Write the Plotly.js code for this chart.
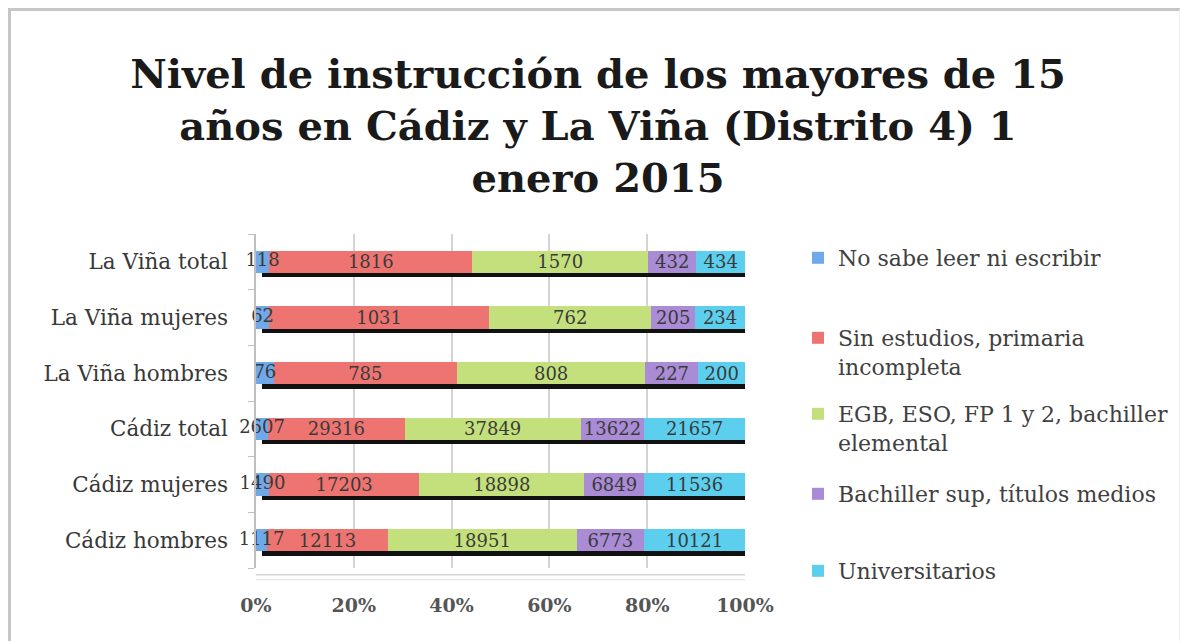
<!DOCTYPE html>
<html>
<head>
<meta charset="utf-8">
<script src="https://cdn.plot.ly/plotly-3.0.1.min.js"></script>
<style>
  html, body { margin: 0; padding: 0; background: #fff; }
  #frame { position: absolute; left: 8px; top: 8px; width: 1168px; height: 640px;
           border-top: 3px solid #c6c6c6; border-left: 3px solid #c6c6c6; border-right: 1px solid #eeeeee; }
  #chart { position: absolute; left: 0; top: 0; width: 1181px; height: 641px; }
</style>
</head>
<body>
<div id="frame"></div>
<div id="chart"></div>
<script>
// Categories (bottom to top)
const categories = ['Cádiz hombres', 'Cádiz mujeres', 'Cádiz total', 'La Viña hombres', 'La Viña mujeres', 'La Viña total'];
const seriesNames = ['No sabe leer ni escribir', 'Sin estudios, primaria<br>incompleta', 'EGB, ESO, FP 1 y 2, bachiller<br>elemental', 'Bachiller sup, títulos medios', 'Universitarios'];
const noSabe      = [1117, 1490, 2607, 76, 62, 118];
const sinEstudios = [12113, 17203, 29316, 785, 1031, 1816];
const egb         = [18951, 18898, 37849, 808, 762, 1570];
const bachSup     = [6773, 6849, 13622, 227, 205, 432];
const univ        = [10121, 11536, 21657, 200, 234, 434];
const xTickVals   = [0, 20, 40, 60, 80, 100];
const xTickText   = ['0%', '20%', '40%', '60%', '80%', '100%'];

const series = [noSabe, sinEstudios, egb, bachSup, univ];
const colors = ['#6fa9ea', '#ee7471', '#c3e07c', '#aa8bd5', '#5ccfee'];
const totals = categories.map((_, i) => series.reduce((s, arr) => s + arr[i], 0));
const pct = series.map(arr => arr.map((v, i) => 100 * v / totals[i]));

const FONT = 'DejaVu Serif, Liberation Serif, serif';
const LEG_SIZE = 22;

const traces = [];
// 3D-like shadow under each bar (main subplot, drawn below)
traces.push({
  type: 'bar', orientation: 'h', y: categories,
  x: totals.map(t => 100 * t / t - 1.2), base: 1.2,
  width: 0.1, offset: -0.28,
  marker: { color: '#111111' }, showlegend: false, hoverinfo: 'skip',
  xaxis: 'x', yaxis: 'y'
});

series.forEach((arr, k) => {
  traces.push({
    type: 'bar', orientation: 'h', name: seriesNames[k], y: categories,
    x: pct[k],
    text: arr.map(String), textposition: k === 0 ? 'none' : 'inside', insidetextanchor: 'middle',
    textangle: 0, constraintext: 'none',
    insidetextfont: { family: FONT, size: 18, color: '#3a3a3a' },
    hovertemplate: '%{y}: %{text}<extra></extra>',
    width: 0.4,
    marker: { color: colors[k], line: { width: 0 } },
    xaxis: 'x2', yaxis: 'y2',
    legend: k === 0 ? 'legend' : 'legend' + (k + 1)
  });
});
// labels of the narrow first segment, drawn above the bars
traces.push({
  type: 'scatter', mode: 'text', y: categories,
  x: pct[0].map(p => p / 2),
  text: noSabe.map(String), textposition: 'middle center',
  textfont: { family: FONT, size: 18, color: '#3a3a3a' },
  cliponaxis: false, showlegend: false, hoverinfo: 'skip',
  xaxis: 'x2', yaxis: 'y2'
});

const legendCenters = [259, 339, 415, 495, 572];
const legendBase = {
  xref: 'container', yref: 'container', x: 798 / 1181, xanchor: 'left', yanchor: 'top',
  bgcolor: 'rgba(0,0,0,0)', font: { family: FONT, size: LEG_SIZE, color: '#404040' },
  valign: 'top', itemclick: false, itemdoubleclick: false
};
function legAt(c) { return Object.assign({}, legendBase, { y: 1 - (c - 22) / 641 }); }

const layout = {
  width: 1181, height: 641,
  paper_bgcolor: 'rgba(0,0,0,0)', plot_bgcolor: 'rgba(0,0,0,0)',
  margin: { l: 256, r: 436, t: 234, b: 73 },
  barmode: 'stack',
  title: {
    text: 'Nivel de instrucción de los mayores de 15<br>años en Cádiz y La Viña (Distrito 4) 1<br>enero 2015',
    font: { family: FONT, size: 40, color: '#1a1a1a', weight: 'bold' },
    x: 598 / 1181, xanchor: 'center', xref: 'container',
    y: 1 - 88 / 641, yanchor: 'middle', yref: 'container'
  },
  xaxis: {
    range: [0, 100], tickvals: xTickVals, ticktext: xTickText,
    showgrid: true, gridcolor: '#d4d4d4', gridwidth: 1.5,
    zeroline: false, showline: false, ticks: '',
    tickfont: { family: FONT, size: 19, color: '#555555', weight: 'bold' },
    ticklabelstandoff: 24, fixedrange: true
  },
  yaxis: {
    type: 'category', categoryorder: 'array', categoryarray: categories, range: [-0.5, 5.5],
    showline: true, linecolor: '#bfbfbf', linewidth: 1.5,
    ticks: 'outside', tickson: 'boundaries', ticklen: 6, tickcolor: '#bfbfbf',
    showgrid: false, tickfont: { family: FONT, size: 21.5, color: '#383838' },
    ticklabelstandoff: 22, fixedrange: true
  },
  xaxis2: { overlaying: 'x', range: [0, 100], visible: false, fixedrange: true },
  yaxis2: { overlaying: 'y', type: 'category', categoryorder: 'array', categoryarray: categories,
            range: [-0.5, 5.5], visible: false, fixedrange: true },
  shapes: [
    { type: 'line', xref: 'x', yref: 'paper', x0: 0, x1: 100, y0: -0.02, y1: -0.02, line: { color: '#d4d4d4', width: 1.5 } },
    { type: 'line', xref: 'x', yref: 'paper', x0: 0, x1: 100, y0: -0.035, y1: -0.035, line: { color: '#e2e2e2', width: 1 } }
  ],
  legend:  legAt(legendCenters[0]),
  legend2: legAt(legendCenters[1]),
  legend3: legAt(legendCenters[2]),
  legend4: legAt(legendCenters[3]),
  legend5: legAt(legendCenters[4]),
  showlegend: true
};

Plotly.newPlot('chart', traces, layout, { displayModeBar: false, responsive: false });
</script>
</body>
</html>
